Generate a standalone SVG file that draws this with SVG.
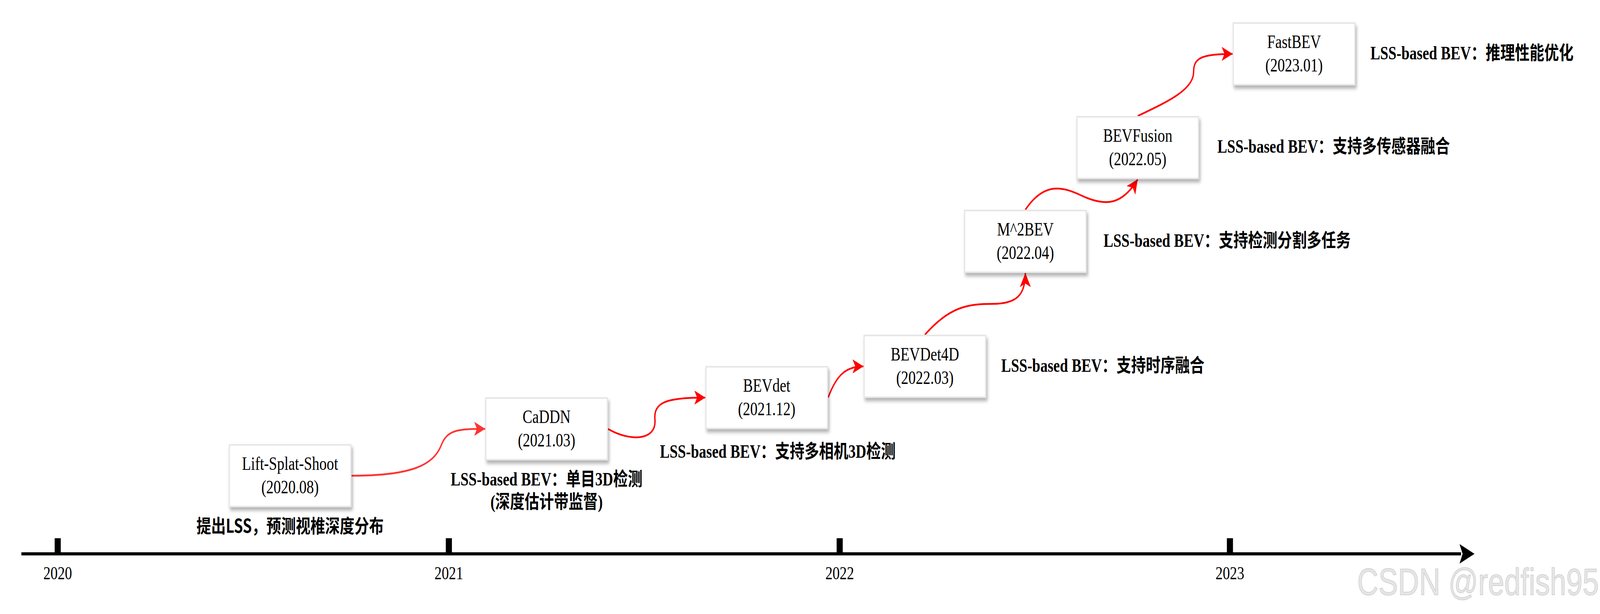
<svg xmlns="http://www.w3.org/2000/svg" width="5240" height="1572" viewBox="0 0 5240 1572" preserveAspectRatio="none" style="width:100vw;height:100vh;display:block">
<defs>
<style>
.box{fill:#ffffff;stroke:#e6e6e6;stroke-width:4;filter:url(#sh)}
.nt{font-family:"Liberation Serif","Times New Roman",serif;font-size:48px;fill:#000;text-anchor:middle}
.lbl{font-family:"Liberation Serif","Noto Sans CJK SC",serif;font-size:48px;font-weight:bold;fill:#000}
.cjk{font-family:"Noto Sans CJK SC",sans-serif;font-size:48px;font-weight:bold;fill:#000}
.yr{font-family:"Liberation Serif","Times New Roman",serif;font-size:47px;fill:#000;text-anchor:middle}
.edge{fill:none;stroke:#ff0000;stroke-width:4.5}
.wm{font-family:"Liberation Sans",Arial,sans-serif;font-size:96px;fill:#e6e6e6;stroke:#cccccc;stroke-width:1.5}
</style>
<filter id="sh" x="-10%" y="-10%" width="130%" height="150%">
<feDropShadow dx="4" dy="8" stdDeviation="5" flood-color="#000000" flood-opacity="0.3"/>
</filter>
<marker id="ar" viewBox="0 0 36 36" refX="36" refY="18" markerWidth="36" markerHeight="36" markerUnits="userSpaceOnUse" orient="auto">
<path d="M36,18 L0,0 L9,18 L0,36 Z" fill="#ff0000"/>
</marker>
<marker id="ar2" viewBox="0 0 36 36" refX="36" refY="18" markerWidth="36" markerHeight="36" markerUnits="userSpaceOnUse" orient="auto">
<path d="M36,18 L0,0 L9,18 L0,36 Z" fill="#ff3333"/>
</marker>
</defs>
<rect x="0" y="0" width="5240" height="1572" fill="#ffffff"/>

<g id="timeline">
<rect x="70" y="1414" width="4715" height="8" fill="#000"/>
<path d="M4829,1418 L4780,1393 L4790,1418 L4780,1443 Z" fill="#000"/>
<rect x="179" y="1378" width="20" height="40" fill="#000"/>
<rect x="1460" y="1378" width="20" height="40" fill="#000"/>
<rect x="2740" y="1378" width="20" height="40" fill="#000"/>
<rect x="4018" y="1378" width="20" height="40" fill="#000"/>
<text class="yr" x="189" y="1483">2020</text>
<text class="yr" x="1470" y="1483">2021</text>
<text class="yr" x="2750" y="1483">2022</text>
<text class="yr" x="4028" y="1483">2023</text>
</g>

<g id="connectors">
<path class="edge" style="stroke:#ff3333" marker-end="url(#ar2)" d="M1151,1218 C1350,1218 1420,1190 1445,1140 C1465,1100 1500,1098 1589,1098"/>
<path class="edge" marker-end="url(#ar)" d="M1991,1098 C2060,1130 2150,1130 2145,1075 C2140,1030 2180,1018 2310,1018"/>
<path class="edge" marker-end="url(#ar)" d="M2712,1018 C2740,960 2770,938 2828,938"/>
<path class="edge" marker-end="url(#ar)" d="M3029,857 C3110,785 3170,778 3250,778 C3330,778 3358,755 3358,699"/>
<path class="edge" marker-end="url(#ar)" d="M3358,537 C3420,465 3480,478 3540,500 C3620,530 3675,525 3726,459"/>
<path class="edge" marker-end="url(#ar)" d="M3726,297 C3820,262 3909,230 3909,185 C3909,150 3930,138 4037,138"/>
</g>

<g id="n-lss">
<rect class="box" x="751" y="1139" width="398" height="158"/>
<text class="nt" x="950" y="1203">Lift-Splat-Shoot</text>
<text class="nt" x="950" y="1263">(2020.08)</text>
</g>
<g id="n-caddn">
<rect class="box" x="1591" y="1019" width="398" height="158"/>
<text class="nt" x="1790" y="1083">CaDDN</text>
<text class="nt" x="1790" y="1143">(2021.03)</text>
</g>
<g id="n-bevdet">
<rect class="box" x="2312" y="939" width="398" height="158"/>
<text class="nt" x="2511" y="1003">BEVdet</text>
<text class="nt" x="2511" y="1063">(2021.12)</text>
</g>
<g id="n-bevdet4d">
<rect class="box" x="2830" y="859" width="398" height="158"/>
<text class="nt" x="3029" y="923">BEVDet4D</text>
<text class="nt" x="3029" y="983">(2022.03)</text>
</g>
<g id="n-m2bev">
<rect class="box" x="3159" y="539" width="398" height="158"/>
<text class="nt" x="3358" y="603">M^2BEV</text>
<text class="nt" x="3358" y="663">(2022.04)</text>
</g>
<g id="n-bevfusion">
<rect class="box" x="3527" y="299" width="398" height="158"/>
<text class="nt" x="3726" y="363">BEVFusion</text>
<text class="nt" x="3726" y="423">(2022.05)</text>
</g>
<g id="n-fastbev">
<rect class="box" x="4039" y="59" width="398" height="158"/>
<text class="nt" x="4238" y="123">FastBEV</text>
<text class="nt" x="4238" y="183">(2023.01)</text>
</g>

<g id="labels">
<text class="cjk" x="950" y="1364" text-anchor="middle">提出LSS，预测视椎深度分布</text>
<text class="lbl" x="1790" y="1243" text-anchor="middle">LSS-based BEV：单目3D检测</text>
<text class="lbl" x="1790" y="1301" text-anchor="middle">(深度估计带监督)</text>
<text class="lbl" x="2161" y="1172">LSS-based BEV：支持多相机3D检测</text>
<text class="lbl" x="3279" y="952">LSS-based BEV：支持时序融合</text>
<text class="lbl" x="3614" y="632">LSS-based BEV：支持检测分割多任务</text>
<text class="lbl" x="3987" y="391">LSS-based BEV：支持多传感器融合</text>
<text class="lbl" x="4488" y="152">LSS-based BEV：推理性能优化</text>
</g>

<text class="wm" x="4445" y="1523">CSDN @redfish95</text>
</svg>
